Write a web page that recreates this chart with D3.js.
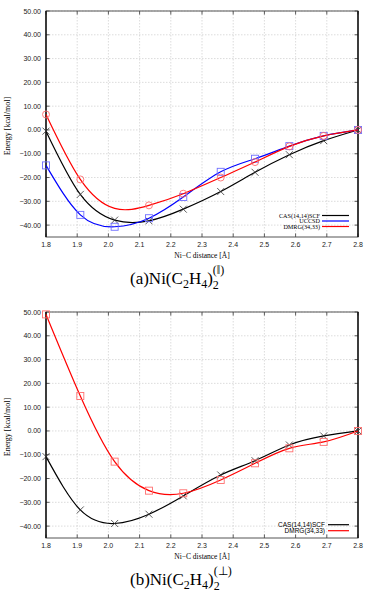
<!DOCTYPE html>
<html>
<head>
<meta charset="utf-8">
<script src="https://cdn.jsdelivr.net/npm/d3@7"></script>
<style>
  body { margin: 0; background: #fff; }
  svg { display: block; }
</style>
</head>
<body>
<div id="main"></div>
<script>
// Ni-C distances (Angstrom)
var distances = [1.8, 1.91, 2.02, 2.13, 2.24, 2.36, 2.47, 2.58, 2.69, 2.8];

// panel (a): parallel
var casA   = [-0.5, -27.1, -37.9, -38.2, -33.3, -25.9, -17.8, -10.4, -4.5, 0];
var uccsdA = [-14.9, -35.7, -40.7, -37.1, -28.2, -17.6, -12.1, -6.8, -2.5, 0];
var dmrgA  = [6.5, -20.8, -33.0, -31.7, -26.8, -20.0, -13.5, -6.9, -2.5, 0];
// the 2.02 DMRG point carries no marker in the figure
var dmrgAHidden = [2.02];

// panel (b): perpendicular
var casB  = [-10.8, -33.2, -38.9, -35.0, -27.3, -18.5, -12.5, -5.9, -2.1, 0];
var dmrgB = [49.0, 14.7, -12.9, -25.1, -26.2, -20.6, -13.6, -7.3, -4.6, 0];

var xTicks = [1.8, 1.9, 2.0, 2.1, 2.2, 2.3, 2.4, 2.5, 2.6, 2.7, 2.8];
var yTicks = [-40, -30, -20, -10, 0, 10, 20, 30, 40, 50];

var ctx = {
    w: 374,
    h: 594,
    left: 46,
    right: 358,
    sans: "'Liberation Sans', Arial, sans-serif",
    serif: "'Liberation Serif', 'Times New Roman', serif"
};

var svg = d3.select("#main").append("svg")
    .attr("width", ctx.w)
    .attr("height", ctx.h);

var fmtY = function(d) { return d3.format(".2f")(d).replace("-", "\u2212"); };

var drawMarker = function(g, type, x, y, color) {
    if (type == "x") {
        g.append("path")
            .attr("d", "M" + (x - 3.5) + "," + (y - 3.5) + "L" + (x + 3.5) + "," + (y + 3.5) +
                       "M" + (x - 3.5) + "," + (y + 3.5) + "L" + (x + 3.5) + "," + (y - 3.5))
            .attr("stroke", color).attr("stroke-width", 0.8).attr("fill", "none");
    } else if (type == "square") {
        g.append("rect")
            .attr("x", x - 3.5).attr("y", y - 3.5).attr("width", 7).attr("height", 7)
            .attr("stroke", color).attr("stroke-width", 0.9).attr("fill", "none");
    } else {
        g.append("circle")
            .attr("cx", x).attr("cy", y).attr("r", 3.5)
            .attr("stroke", color).attr("stroke-width", 0.9).attr("fill", "none");
    }
};

var drawPanel = function(opt) {
    var g = svg.append("g");
    var x = d3.scaleLinear().domain([1.8, 2.8]).range([ctx.left, ctx.right]);
    var y = d3.scaleLinear().domain([-45, 50]).range([opt.bottom, opt.top]);

    // grid
    g.selectAll(".vgrid").data(xTicks.slice(1, -1)).enter().append("line")
        .attr("x1", function(d) { return x(d); }).attr("x2", function(d) { return x(d); })
        .attr("y1", opt.top).attr("y2", opt.bottom)
        .attr("stroke", "#c4c4c4").attr("stroke-width", 0.6).attr("stroke-dasharray", "1.5,1.5");
    g.selectAll(".hgrid").data(yTicks).enter().append("line")
        .attr("x1", ctx.left).attr("x2", ctx.right)
        .attr("y1", function(d) { return y(d); }).attr("y2", function(d) { return y(d); })
        .attr("stroke", "#c4c4c4").attr("stroke-width", 0.6).attr("stroke-dasharray", "1.5,1.5");

    // inward ticks on all sides
    xTicks.forEach(function(t) {
        g.append("line").attr("x1", x(t)).attr("x2", x(t)).attr("y1", opt.bottom).attr("y2", opt.bottom - 3.5)
            .attr("stroke", "#333").attr("stroke-width", 0.8);
        g.append("line").attr("x1", x(t)).attr("x2", x(t)).attr("y1", opt.top).attr("y2", opt.top + 3.5)
            .attr("stroke", "#333").attr("stroke-width", 0.8);
    });
    yTicks.forEach(function(t) {
        g.append("line").attr("x1", ctx.left).attr("x2", ctx.left + 3.5).attr("y1", y(t)).attr("y2", y(t))
            .attr("stroke", "#333").attr("stroke-width", 0.8);
        g.append("line").attr("x1", ctx.right).attr("x2", ctx.right - 3.5).attr("y1", y(t)).attr("y2", y(t))
            .attr("stroke", "#333").attr("stroke-width", 0.8);
    });

    // frame
    g.append("rect")
        .attr("x", ctx.left).attr("y", opt.top)
        .attr("width", ctx.right - ctx.left).attr("height", opt.bottom - opt.top)
        .attr("fill", "none").attr("stroke", "#555").attr("stroke-width", 1);
    g.append("line").attr("x1", ctx.left).attr("x2", ctx.left).attr("y1", opt.top).attr("y2", opt.bottom)
        .attr("stroke", "#000").attr("stroke-width", 1.3);
    g.append("line").attr("x1", ctx.right).attr("x2", ctx.right).attr("y1", opt.top).attr("y2", opt.bottom)
        .attr("stroke", "#000").attr("stroke-width", 1.3);

    // tick labels
    g.selectAll(".xl").data(xTicks).enter().append("text")
        .attr("x", function(d) { return x(d); }).attr("y", opt.bottom + 9.5)
        .attr("text-anchor", "middle").attr("font-family", ctx.sans).attr("font-size", 7)
        .attr("fill", "#222")
        .text(function(d) { return d3.format(".1f")(d); });
    g.selectAll(".yl").data(yTicks).enter().append("text")
        .attr("x", ctx.left - 5).attr("y", function(d) { return y(d) + 2.5; })
        .attr("text-anchor", "end").attr("font-family", ctx.sans).attr("font-size", 7)
        .attr("fill", "#222")
        .text(fmtY);

    // axis titles
    g.append("text")
        .attr("x", 202).attr("y", opt.bottom + 21)
        .attr("text-anchor", "middle").attr("font-family", ctx.serif).attr("font-size", 7.5)
        .text("Ni\u2212C distance [\u00c5]");
    g.append("text")
        .attr("transform", "translate(10," + ((opt.top + opt.bottom) / 2 + 2) + ") rotate(-90)")
        .attr("text-anchor", "middle").attr("font-family", ctx.serif).attr("font-size", 8)
        .text("Energy [kcal/mol]");

    // curves
    var line = d3.line()
        .x(function(d) { return x(d[0]); })
        .y(function(d) { return y(d[1]); })
        .curve(d3.curveNatural);

    opt.series.forEach(function(s) {
        var pts = distances.map(function(d, i) { return [d, s.values[i]]; });
        var hidden = s.hidden || [];
        g.append("path").datum(pts)
            .attr("d", line)
            .attr("fill", "none").attr("stroke", s.color).attr("stroke-width", 1.2);
        pts.forEach(function(p) {
            if (hidden.indexOf(p[0]) < 0) {
                drawMarker(g, s.marker, x(p[0]), y(p[1]), s.markerColor);
            }
        });
    });

    // legend
    opt.series.forEach(function(s, i) {
        var ly = opt.legendY + i * opt.legendStep;
        g.append("text")
            .attr("x", opt.legendTextX).attr("y", ly + 2)
            .attr("text-anchor", "end").attr("font-family", opt.legendFont).attr("font-size", opt.legendSize)
            .text(s.name);
        g.append("line")
            .attr("x1", opt.legendLineX).attr("x2", 349).attr("y1", ly).attr("y2", ly)
            .attr("stroke", s.color).attr("stroke-width", 1.2);
    });

    // caption
    var cap = svg.append("text")
        .attr("x", 130).attr("y", opt.bottom + 47)
        .attr("font-family", ctx.serif).attr("font-size", 17);
    cap.append("tspan").text("(" + opt.label + ")Ni(C");
    cap.append("tspan").attr("font-size", 12).attr("dy", 4).text("2");
    cap.append("tspan").attr("dy", -4).text("H");
    cap.append("tspan").attr("font-size", 12).attr("dy", 4).text("4");
    cap.append("tspan").attr("dy", -4).text(")");
    cap.append("tspan").attr("font-size", 12).attr("dy", 5).text("2");
    cap.append("tspan").attr("font-size", 12).attr("dx", -6).attr("dy", -15).text("(" + opt.sup + ")");
};

drawPanel({
    top: 11, bottom: 237, label: "a", sup: "\u2016",
    legendY: 215.5, legendStep: 5.5, legendTextX: 320, legendLineX: 322,
    legendFont: ctx.serif, legendSize: 6.2,
    series: [
        { name: "CAS(14,14)SCF", values: casA, color: "#000", marker: "x", markerColor: "#333" },
        { name: "UCCSD", values: uccsdA, color: "#0000ff", marker: "square", markerColor: "#6f6fff" },
        { name: "DMRG(34,33)", values: dmrgA, color: "#ff0000", marker: "circle", markerColor: "#ff6f6f",
          hidden: dmrgAHidden }
    ]
});

drawPanel({
    top: 312, bottom: 538, label: "b", sup: "\u22a5",
    legendY: 524.7, legendStep: 6, legendTextX: 325, legendLineX: 328,
    legendFont: ctx.sans, legendSize: 6.5,
    series: [
        { name: "CAS(14,14)SCF", values: casB, color: "#000", marker: "x", markerColor: "#333" },
        { name: "DMRG(34,33)", values: dmrgB, color: "#ff0000", marker: "square", markerColor: "#ff6f6f" }
    ]
});
</script>
</body>
</html>
